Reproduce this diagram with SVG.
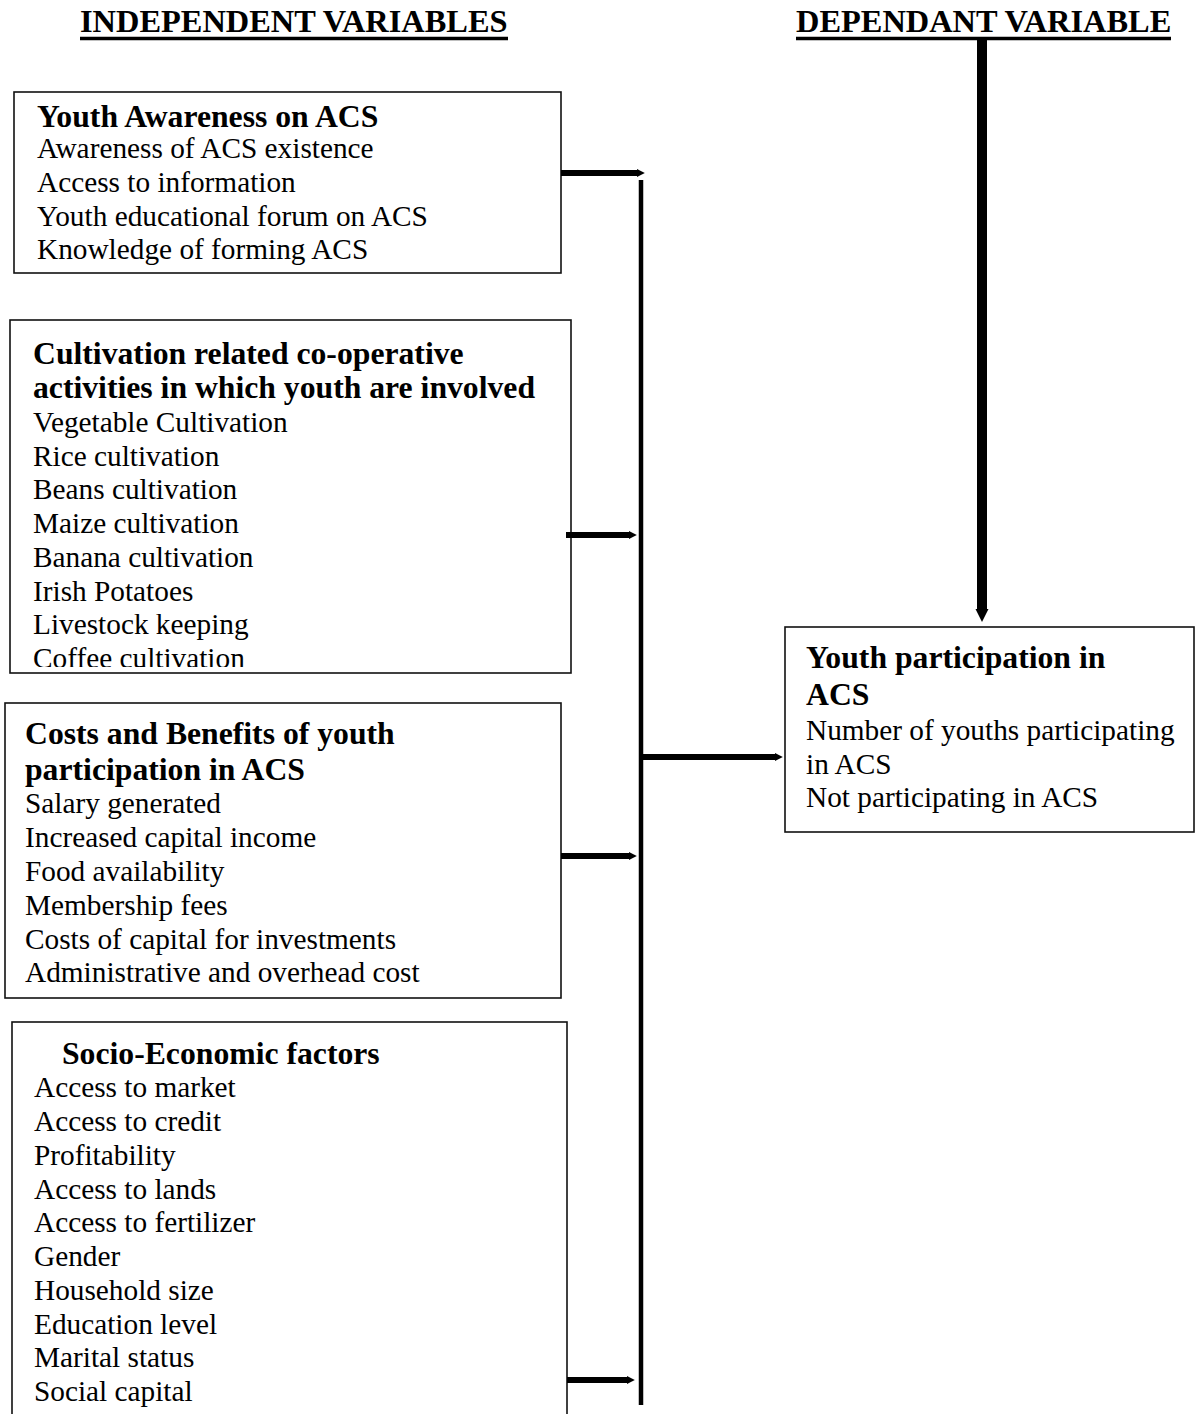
<svg xmlns="http://www.w3.org/2000/svg" width="1195" height="1414" viewBox="0 0 1195 1414">
<style>
text{font-family:"Liberation Serif","Times New Roman",serif;fill:#000}
.hd{font-size:32.4px;font-weight:bold}
.h{font-size:31.7px;font-weight:bold}
.t{font-size:29.3px}
.box{fill:#fff;stroke:#111;stroke-width:1.6}
.ul{stroke:#000;stroke-width:3.4}
.c{stroke:#000;fill:none}
</style>
<defs>
<marker id="ah" viewBox="0 0 10 10" refX="0" refY="5" markerWidth="1.3" markerHeight="1.7" orient="auto" markerUnits="strokeWidth">
<path d="M0,0 L10,5 L0,10 z" fill="#000"/>
</marker>
<clipPath id="clip2"><rect x="10" y="320" width="561" height="347"/></clipPath>
</defs>
<rect width="1195" height="1414" fill="#fff"/>

<g id="header-independent">
<text class="hd" x="80" y="32">INDEPENDENT VARIABLES</text>
<line class="ul" x1="80" y1="38.5" x2="508" y2="38.5"/>
</g>
<g id="header-dependant">
<text class="hd" x="796" y="32">DEPENDANT VARIABLE</text>
<line class="ul" x1="796" y1="38.5" x2="1171" y2="38.5"/>
</g>

<g id="box-awareness">
<rect class="box" x="14" y="92" width="547" height="181"/>
<text class="h" x="37" y="127">Youth Awareness on ACS</text>
<text class="t" x="37" y="158">Awareness of ACS existence</text>
<text class="t" x="37" y="192">Access to information</text>
<text class="t" x="37" y="226">Youth educational forum on ACS</text>
<text class="t" x="37" y="259">Knowledge of forming ACS</text>
</g>

<g id="box-cultivation">
<rect class="box" x="10" y="320" width="561" height="353"/>
<g clip-path="url(#clip2)">
<text class="h" x="33" y="364">Cultivation related co-operative</text>
<text class="h" x="33" y="398">activities in which youth are involved</text>
<text class="t" x="33" y="432">Vegetable Cultivation</text>
<text class="t" x="33" y="466">Rice cultivation</text>
<text class="t" x="33" y="499">Beans cultivation</text>
<text class="t" x="33" y="533">Maize cultivation</text>
<text class="t" x="33" y="567">Banana cultivation</text>
<text class="t" x="33" y="601">Irish Potatoes</text>
<text class="t" x="33" y="634">Livestock keeping</text>
<text class="t" x="33" y="668">Coffee cultivation</text>
</g>
</g>

<g id="box-costs">
<rect class="box" x="5" y="703" width="556" height="295"/>
<text class="h" x="25" y="744">Costs and Benefits of youth</text>
<text class="h" x="25" y="780">participation in ACS</text>
<text class="t" x="25" y="813">Salary generated</text>
<text class="t" x="25" y="847">Increased capital income</text>
<text class="t" x="25" y="881">Food availability</text>
<text class="t" x="25" y="915">Membership fees</text>
<text class="t" x="25" y="949">Costs of capital for investments</text>
<text class="t" x="25" y="982">Administrative and overhead cost</text>
</g>

<g id="box-socio">
<rect class="box" x="12" y="1022" width="555" height="420"/>
<text class="h" x="62" y="1064">Socio-Economic factors</text>
<text class="t" x="34" y="1097">Access to market</text>
<text class="t" x="34" y="1131">Access to credit</text>
<text class="t" x="34" y="1165">Profitability</text>
<text class="t" x="34" y="1199">Access to lands</text>
<text class="t" x="34" y="1232">Access to fertilizer</text>
<text class="t" x="34" y="1266">Gender</text>
<text class="t" x="34" y="1300">Household size</text>
<text class="t" x="34" y="1334">Education level</text>
<text class="t" x="34" y="1367">Marital status</text>
<text class="t" x="34" y="1401">Social capital</text>
</g>

<g id="box-participation">
<rect class="box" x="785" y="627" width="409" height="205"/>
<text class="h" x="806" y="668">Youth participation in</text>
<text class="h" x="806" y="705">ACS</text>
<text class="t" x="806" y="740">Number of youths participating</text>
<text class="t" x="806" y="774">in ACS</text>
<text class="t" x="806" y="807">Not participating in ACS</text>
</g>

<g id="connectors">
<line class="c" x1="641" y1="180" x2="641" y2="1405" stroke-width="4.5"/>
<line class="c" x1="561" y1="173" x2="637" y2="173" stroke-width="6" marker-end="url(#ah)"/>
<line class="c" x1="566" y1="535" x2="629" y2="535" stroke-width="6" marker-end="url(#ah)"/>
<line class="c" x1="561" y1="856" x2="629" y2="856" stroke-width="6" marker-end="url(#ah)"/>
<line class="c" x1="567" y1="1380" x2="627" y2="1380" stroke-width="6" marker-end="url(#ah)"/>
<line class="c" x1="643" y1="757" x2="775" y2="757" stroke-width="6" marker-end="url(#ah)"/>
<line class="c" x1="982" y1="37" x2="982" y2="609" stroke-width="10" marker-end="url(#ah)"/>
</g>
</svg>
